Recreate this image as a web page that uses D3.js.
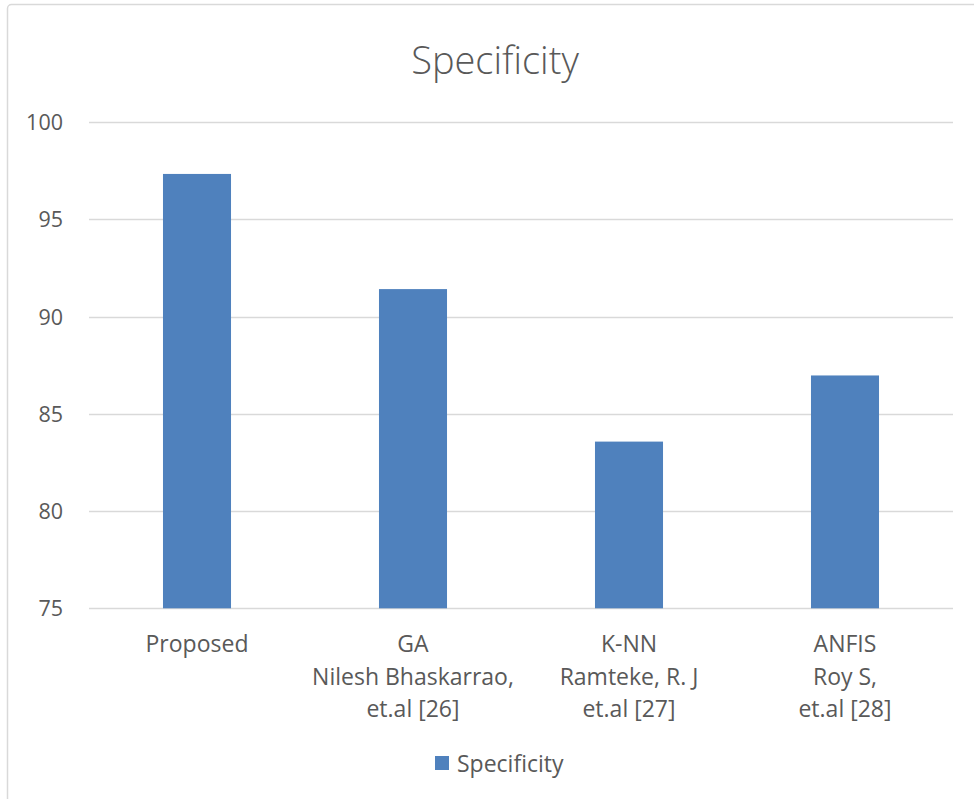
<!DOCTYPE html>
<html>
<head>
<meta charset="utf-8">
<script src="https://cdn.jsdelivr.net/npm/d3@7"></script>
<style>
  html, body { margin: 0; padding: 0; background: #fff; }
  svg { display: block; }
  text { font-family: "Open Sans", "Noto Sans", sans-serif; fill: #595959; }
</style>
</head>
<body>
<svg id="chart" width="974" height="799"></svg>
<script>
// Data
const categories = [
  ["Proposed"],
  ["GA", "Nilesh Bhaskarrao,", "et.al [26]"],
  ["K-NN", "Ramteke, R. J", "et.al [27]"],
  ["ANFIS", "Roy S,", "et.al [28]"]
];
const categoryKeys = ["Proposed", "GA", "K-NN", "ANFIS"];
const specificity = [97.33, 91.41, 83.57, 86.97];
const yTicks = [75, 80, 85, 90, 95, 100];
const seriesName = "Specificity";
const chartTitle = "Specificity";

const svg = d3.select("#chart");
const W = 974, H = 799;
const margin = { left: 89, right: 21, top: 122, bottom: 191 };

// frame
svg.append("rect")
  .attr("x", 7.5).attr("y", 4.5)
  .attr("width", 1000).attr("height", 820)
  .attr("rx", 4)
  .attr("fill", "#fff").attr("stroke", "#d9d9d9").attr("stroke-width", 1.5);

const x = d3.scaleBand()
  .domain(categoryKeys)
  .range([margin.left, W - margin.right])
  .paddingInner(0.685)
  .paddingOuter(0.3425);

const y = d3.scaleLinear()
  .domain([75, 100])
  .range([H - margin.bottom + 0.3, margin.top]);

// gridlines
svg.append("g")
  .selectAll("line")
  .data(yTicks)
  .join("line")
  .attr("x1", margin.left).attr("x2", W - margin.right)
  .attr("y1", d => Math.round(y(d)) + 0.5).attr("y2", d => Math.round(y(d)) + 0.5)
  .attr("stroke", "#d9d9d9").attr("stroke-width", 1.5);

// y tick labels
const yAxis = d3.axisLeft(y).tickValues(yTicks).tickSize(0).tickPadding(0);
const gy = svg.append("g").attr("transform", `translate(63,0)`).call(yAxis);
gy.select(".domain").remove();
gy.selectAll("text")
  .attr("font-size", 21.5)
  .attr("font-family", "'Open Sans', sans-serif")
  .attr("fill", "#595959")
  .attr("dy", "0.35em");

// bars
svg.append("g")
  .selectAll("rect")
  .data(specificity)
  .join("rect")
  .attr("x", (d, i) => x(categoryKeys[i]))
  .attr("width", x.bandwidth())
  .attr("y", d => y(d))
  .attr("height", d => y(75) - y(d))
  .attr("fill", "#4f81bd");

// x labels
const xl = svg.append("g");
categories.forEach((lines, i) => {
  const cx = x(categoryKeys[i]) + x.bandwidth() / 2;
  const t = xl.append("text")
    .attr("text-anchor", "middle")
    .attr("font-size", 23);
  lines.forEach((ln, j) => {
    t.append("tspan").attr("x", cx).attr("y", 652 + j * 32.5).text(ln);
  });
});

// title
svg.append("text")
  .attr("x", 495).attr("y", 74)
  .attr("text-anchor", "middle")
  .attr("font-size", 38)
  .attr("font-weight", 300)
  .text(chartTitle);

// legend
const lg = svg.append("g");
lg.append("rect").attr("x", 435).attr("y", 756).attr("width", 14).attr("height", 14).attr("fill", "#4f81bd");
lg.append("text").attr("x", 457).attr("y", 772).attr("font-size", 23).text(seriesName);
</script>
</body>
</html>
